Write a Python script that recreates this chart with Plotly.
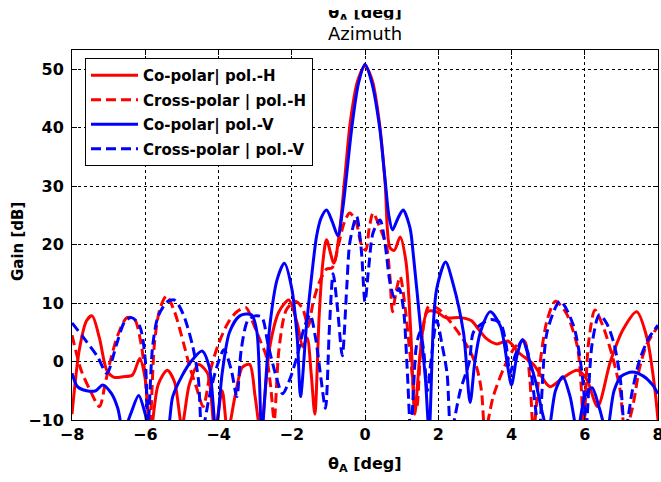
import plotly.graph_objects as go

# ---------------- data ----------------
co_h_theta = [-8.0, -7.8, -7.6, -7.45, -7.25, -7.05, -6.85, -6.6, -6.35, -6.15,
              -6.0, -5.85, -5.65, -5.4, -5.2, -5.0, -4.8, -4.55, -4.3, -4.1,
              -3.9, -3.75, -3.55, -3.35, -3.15, -3.0, -2.85, -2.6, -2.35, -2.08,
              -1.85, -1.7, -1.58, -1.47, -1.37, -1.25, -1.15, -1.05, -0.85, -0.7,
              -0.55, -0.4, -0.2, 0.0, 0.2, 0.4, 0.55, 0.68, 0.8, 0.96,
              1.12, 1.25, 1.36, 1.5, 1.7, 1.95, 2.2, 2.6, 2.9, 3.1,
              3.3, 3.6, 3.9, 4.2, 4.6, 5.05, 5.4, 5.8, 6.05, 6.35,
              6.7, 7.05, 7.42, 7.7, 7.9, 8.0]
co_h_gain = [-9, 2, 7, 7.8, 4, -1.5, -2.7, -2.6, -2.3, 0.5,
             -3, -12, -4, -1.5, -3.5, -11, -4, -0.5, -2, -12,
             -5, -12, -6, -1, -0.5, -6, -12, 2.5, 8.5, 10.5,
             6.5, 2.5, 4, -2, -9, 8, 17, 20.8, 16.8, 22,
             31.5, 41, 48, 50.5, 48, 40.5, 30.5, 19.5, 19, 21.3,
             17, 5, -9, 1, 8.5, 8.5, 7.5, 7.5, 7, 5.5,
             4, 3, 3.5, 1.5, -0.5, -4.3, -2.8, -1.5, -3, -7.7,
             0, 5.5, 8.5, 4, -4, -10]

cross_h_theta = [-8.0, -7.75, -7.5, -7.25, -7.1, -6.97, -6.75, -6.5, -6.3, -6.1,
                 -5.97, -5.88, -5.75, -5.6, -5.42, -5.2, -4.95, -4.78, -4.6, -4.42,
                 -4.2, -4.0, -3.75, -3.5, -3.25, -3.05, -2.87, -2.7, -2.58, -2.48,
                 -2.35, -2.15, -1.9, -1.7, -1.55, -1.42, -1.25, -1.05, -0.9, -0.72,
                 -0.58, -0.42, -0.25, -0.1, 0.02, 0.12, 0.22, 0.4, 0.59, 0.68,
                 0.75, 0.85, 0.96, 1.1, 1.25, 1.41, 1.55, 1.75, 2.0, 2.3,
                 2.6, 2.85, 3.05, 3.18, 3.28, 3.5, 3.8, 4.1, 4.35, 4.5,
                 4.6, 4.78, 4.97, 5.2, 5.5, 5.8, 5.9, 5.97, 6.1, 6.28,
                 6.5, 6.78, 6.97, 7.1, 7.3, 7.5, 7.7, 8.0]
cross_h_gain = [4.5, -1.5, -5, -7.7, -4, -0.3, 4.5, 7.5, 7.3, 2.5,
                -5, -12, 3, 9, 11.2, 8.5, 3, -1, -4.5, -7.7,
                -1, 3, 6.5, 8.5, 9.2, 6.5, 3.7, 1, -4, -10,
                2, 8.8, 10.3, 9, 6, 10, 13.5, 15.8, 16, 20,
                23.5, 25.4, 24, 20, 19, 23, 25.4, 23, 19.6, 14.5,
                8.5, 12, 14.5, 9, 0, -8, 4, 9.5, 9, 7,
                4.5, 2, -1, -5, -12, -6, -1, 2.5, 3.5, -3,
                -12, -0.3, 7, 10.3, 8.2, 2.5, -4, -12, 3, 8.8,
                6, 0.3, -5, -12, -8, -1, 3, 6]

co_v_theta = [-8.0, -7.85, -7.6, -7.35, -7.16, -6.92, -6.75, -6.6, -6.4, -6.18,
              -6.0, -5.85, -5.45, -5.25, -5.0, -4.75, -4.45, -4.25, -4.07, -3.9,
              -3.7, -3.42, -3.1, -2.95, -2.82, -2.6, -2.4, -2.2, -2.0, -1.85,
              -1.76, -1.6, -1.45, -1.32, -1.2, -1.05, -0.9, -0.74, -0.62, -0.5,
              -0.36, -0.18, 0.0, 0.18, 0.4, 0.55, 0.65, 0.75, 0.9, 1.04,
              1.23, 1.32, 1.5, 1.65, 1.75, 1.87, 1.96, 2.2, 2.4, 2.69,
              2.87, 3.0, 3.15, 3.42, 3.7, 3.9, 4.0, 4.15, 4.3, 4.5,
              4.66, 4.85, 5.0, 5.2, 5.4, 5.6, 5.8, 6.0, 6.2, 6.4,
              6.6, 6.8, 7.0, 7.3, 7.6, 7.85, 8.0]
co_v_gain = [-2, -4.3, -5, -5, -4.0, -5.5, -8, -12, -9, -5.8,
             -9, -13, -13, -6, -2.5, 0, 1.8, -1, -12, -2,
             5, 7.8, 8, 5, -12, 6, 14, 16.8, 12.5, 4,
             -6, 6, 15, 21.5, 24.5, 25.9, 24, 21.5, 25.5, 32,
             40, 47.5, 50.8, 47.8, 40, 31, 25, 22.5, 24.5, 25.9,
             22.8, 18.2, 6.8, -3, -12, 6.8, 12.5, 17, 13.4, 4.9,
             -7, 0, 5, 8.5, 6, -1, -4, 1, 3.7, 0,
             -3.5, -9, -12, -5, -2.6, -6, -12, -6, -4.5, -8,
             -12, -5, -2.5, -1.8, -2.5, -4, -5.5]

cross_v_theta = [-8.0, -7.7, -7.3, -7.05, -6.78, -6.56, -6.37, -6.15, -6.0, -5.93,
                 -5.8, -5.65, -5.4, -5.2, -4.97, -4.7, -4.55, -4.45, -4.25, -4.05,
                 -3.85, -3.65, -3.5, -3.38, -3.2, -3.0, -2.82, -2.65, -2.45, -2.25,
                 -2.05, -1.85, -1.65, -1.5, -1.35, -1.2, -1.08, -0.97, -0.87, -0.75,
                 -0.62, -0.5, -0.41, -0.23, -0.1, 0.0, 0.1, 0.22, 0.41, 0.55,
                 0.68, 0.8, 0.93, 1.05, 1.15, 1.25, 1.4, 1.5, 1.6, 1.7,
                 1.8, 1.96, 2.1, 2.24, 2.35, 2.6, 2.85, 2.96, 3.2, 3.45,
                 3.7, 3.85, 3.96, 4.1, 4.3, 4.45, 4.6, 4.75, 4.97, 5.33,
                 5.7, 5.96, 6.03, 6.2, 6.4, 6.6, 6.8, 6.97, 7.1, 7.3,
                 7.5, 7.75, 8.0]
cross_v_gain = [6.6, 4.2, 0.8, -2, 3, 6.8, 7.5, 6, 0.3, -12,
                2.5, 7.7, 10.2, 10.5, 8.2, 2.5, -3, -12, -6, -1,
                2, -1.5, -6, 2, 7, 7.8, 7.6, 3, -2, -5.5,
                -3, 1, 6, 8, 4, -3, -8, 6, 15, 9,
                1, 12.5, 20.5, 24.8, 19, 10.2, 16, 22, 24.2, 20,
                13.6, 11, 12.5, 9, -1, -12, 2.5, 5, 2, -5,
                0, 7, 3, -2, -12, -5, 0, 5, 6.5, 7.2,
                6.5, 3, -2, 1, 3.7, 1.5, -5, -12, 5, 10.3,
                6, -4, -12, 3, 8, 6.5, 3, -3, -12, -5,
                0.3, 4, 6.2]

series_names = ["Co-polar| pol.-H", "Cross-polar | pol.-H",
                "Co-polar| pol.-V", "Cross-polar | pol.-V"]
x_ticks = [-8, -6, -4, -2, 0, 2, 4, 6, 8]
y_ticks = [-10, 0, 10, 20, 30, 40, 50]
x_title = "θ<sub>A</sub> [deg]"
y_title = "Gain [dB]"
plot_title = "Azimuth"

# ---------------- layout geometry ----------------
W, H = 661, 482
ML, MR, MT, MB = 72, 3, 0, 62
PH = H - MT - MB          # paper height in px (420)
PW = W - ML - MR
PLOT_TOP = 50             # px from top of paper to top of axes box
main_top = (PH - PLOT_TOP) / PH
Y_MIN = -10
Y_MAX = Y_MIN + (PH - PLOT_TOP) / 5.85   # 10 dB every 58.5 px


def py(px):               # pixel row -> paper fraction
    return (PH - px) / PH


FONT = "DejaVu Sans"
RED, BLUE = "#ff0000", "#0000ff"
DASH = "10px,5px"

fig = go.Figure()
data = [(co_h_theta, co_h_gain, RED, "solid"),
        (cross_h_theta, cross_h_gain, RED, DASH),
        (co_v_theta, co_v_gain, BLUE, "solid"),
        (cross_v_theta, cross_v_gain, BLUE, DASH)]
for i, ((xs, ys, col, dash), name) in enumerate(zip(data, series_names)):
    fig.add_trace(go.Scatter(
        x=xs, y=ys, name=name, mode="lines", legendgroup=f"g{i}",
        line=dict(color=col, width=3, dash=dash, shape="spline", smoothing=0.8),
        hoverinfo="skip"))

# top (cropped) mirrored axis label, clipped inside a thin invisible subplot
fig.add_trace(go.Scatter(
    x=[0], y=[0.55], mode="text", text=[x_title], xaxis="x2", yaxis="y2",
    textfont=dict(family=FONT, size=16, color="black", weight="bold"),
    textposition="middle center", cliponaxis=True, showlegend=False,
    hoverinfo="skip"))

axis_common = dict(
    showline=True, linecolor="black", linewidth=1, mirror="ticks",
    ticks="inside", ticklen=5, tickcolor="black", tickwidth=1,
    showgrid=True, gridcolor="black", gridwidth=1, griddash="3px,3px",
    zeroline=False, automargin=False, ticklabeloverflow="allow",
    tickfont=dict(family=FONT, size=16, color="black", weight="bold"),
)

fig.update_layout(
    width=W, height=H, autosize=False,
    margin=dict(l=ML, r=MR, t=MT, b=MB, pad=0, autoexpand=False),
    paper_bgcolor="white", plot_bgcolor="white",
    xaxis=dict(range=[-8, 8], tickvals=x_ticks, domain=[0, 1], anchor="y",
               **axis_common),
    yaxis=dict(range=[Y_MIN, Y_MAX], tickvals=y_ticks,
               domain=[0, main_top], anchor="x", ticklabelstandoff=4,
               **axis_common),
    xaxis2=dict(domain=[0, 1], range=[-8, 8], visible=False, anchor="y2",
                fixedrange=True),
    yaxis2=dict(domain=[py(19.5), py(10)], range=[0, 1], visible=False,
                anchor="x2", fixedrange=True),
    showlegend=True,
    legend=dict(x=(85 - ML) / PW, y=py(58), xanchor="left",
                yanchor="top", bgcolor="white", bordercolor="black",
                borderwidth=1, tracegroupgap=2, itemwidth=47,
                font=dict(family=FONT, size=15, color="black", weight="bold")),
    annotations=[
        dict(text=plot_title, x=0.5, y=py(33), xref="paper", yref="paper",
             showarrow=False, xanchor="center", yanchor="middle",
             font=dict(family=FONT, size=18, color="black")),
        dict(text=x_title, x=0.5, y=py(464), xref="paper", yref="paper",
             showarrow=False, xanchor="center", yanchor="middle",
             font=dict(family=FONT, size=16, color="black", weight="bold")),
        dict(text=y_title, x=(18 - ML) / PW, y=py(242),
             xref="paper", yref="paper", showarrow=False, textangle=-90,
             xanchor="center", yanchor="middle",
             font=dict(family=FONT, size=15, color="black", weight="bold")),
    ],
)

fig.write_html(
    "out.html",
    config={"displayModeBar": False},
    post_script="document.body.style.margin='0';document.body.style.padding='0';",
)
